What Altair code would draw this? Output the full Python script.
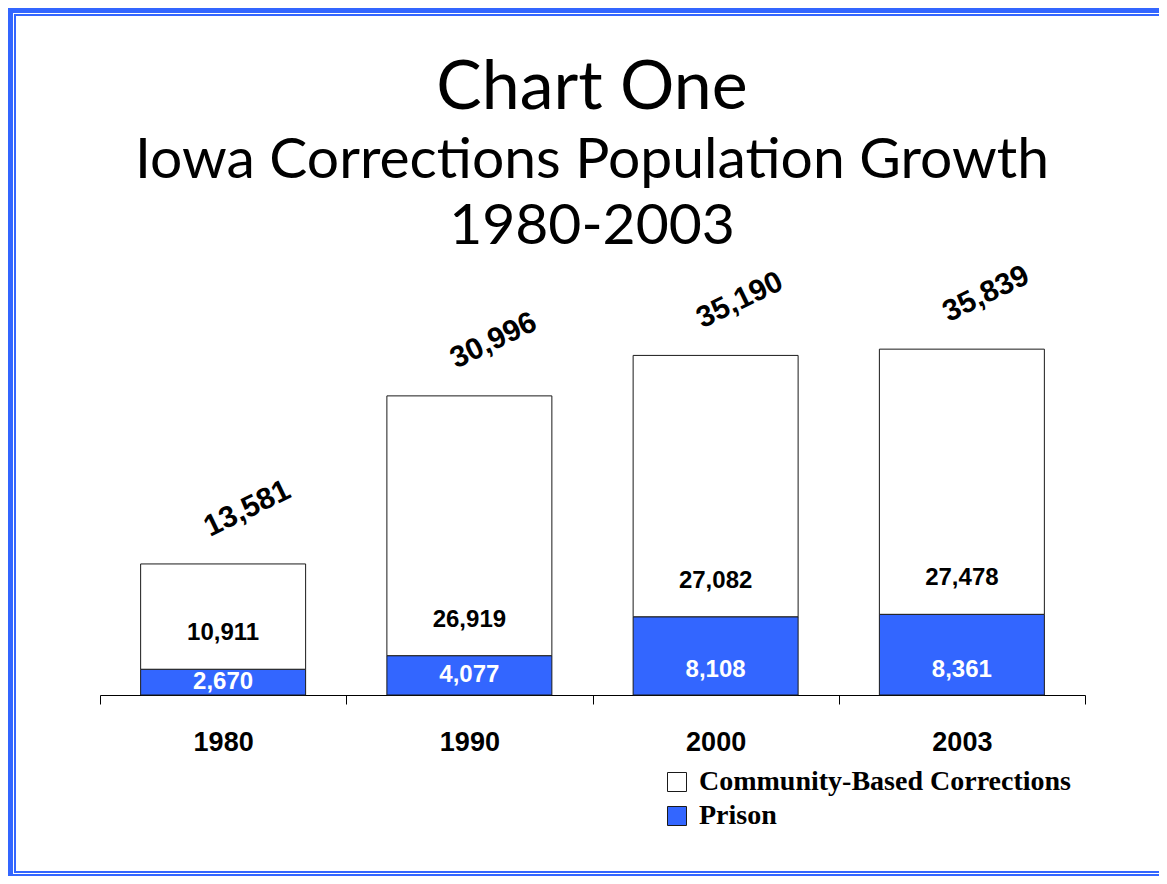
import altair as alt
import pandas as pd

years = ["1980", "1990", "2000", "2003"]
prison = [2670, 4077, 8108, 8361]
community = [10911, 26919, 27082, 27478]
totals = [13581, 30996, 35190, 35839]
series_names = ["Community-Based Corrections", "Prison"]
series_colors = ["#FFFFFF", "#3366FF"]
title_lines = ["Chart One", "Iowa Corrections Population Growth", "1980-2003"]

df = pd.DataFrame({
    "year": years,
    "Prison": prison,
    "Community-Based Corrections": community,
    "total": totals,
})

W, H = 985, 386
YDOM = [0, 40000]
yscale = alt.Scale(domain=YDOM, nice=False, zero=True)
xscale = alt.Scale(paddingInner=0, paddingOuter=0)

base = alt.Chart(df)

bars = base.transform_fold(
    ["Prison", "Community-Based Corrections"], as_=["series", "value"]
).transform_calculate(
    ord="datum.series == 'Prison' ? 0 : 1"
).mark_bar(stroke="#1a1a1a", strokeWidth=1, width=alt.RelativeBandSize(0.67)).encode(
    x=alt.X("year:N", scale=xscale, sort=years,
            axis=alt.Axis(title=None, labelAngle=0, domainColor="black", domainWidth=1,
                          tickColor="black", tickSize=9, tickWidth=1, tickBand="extent",
                          labelFont="Liberation Sans", labelFontWeight="bold",
                          labelFontSize=27, labelColor="black", labelPadding=25)),
    y=alt.Y("value:Q", stack="zero", scale=yscale, axis=None),
    color=alt.Color("series:N",
                    scale=alt.Scale(domain=series_names, range=series_colors),
                    legend=alt.Legend(orient="none", legendX=563, legendY=459, title=None,
                                      symbolType="square", symbolSize=361,
                                      symbolStrokeColor="#1a1a1a", symbolStrokeWidth=1,
                                      symbolOpacity=1, labelLimit=0,
                                      labelFont="Liberation Serif", labelFontWeight="bold",
                                      labelFontSize=28, labelColor="black", labelOffset=8,
                                      rowPadding=6, padding=0)),
    order=alt.Order("ord:Q"),
)

comm_labels = base.mark_text(
    font="Liberation Sans", fontWeight="bold", fontSize=24, color="black",
    baseline="middle", align="center", dy=-36
).encode(
    x=alt.X("year:N", scale=xscale, sort=years),
    y=alt.Y("Prison:Q", scale=yscale),
    text=alt.Text("Community-Based Corrections:Q", format=","),
)

prison_labels = base.transform_calculate(
    plab="min(datum.Prison / 2, 2600)"
).mark_text(
    font="Liberation Sans", fontWeight="bold", fontSize=24, color="white",
    baseline="middle", align="center"
).encode(
    x=alt.X("year:N", scale=xscale, sort=years),
    y=alt.Y("plab:Q", scale=yscale),
    text=alt.Text("Prison:Q", format=","),
)

total_labels = base.mark_text(
    font="Liberation Sans", fontWeight="bold", fontSize=30, color="black",
    baseline="middle", align="center", angle=334, dx=46, dy=-39
).encode(
    x=alt.X("year:N", scale=xscale, sort=years),
    y=alt.Y("total:Q", scale=yscale),
    text=alt.Text("total:Q", format=","),
)

one = pd.DataFrame({"a": [0]})

def title_text(txt, size, ypos):
    return alt.Chart(one).mark_text(
        text=txt, font="Lato", fontSize=size, color="black",
        align="center", baseline="alphabetic"
    ).encode(x=alt.value(492), y=alt.value(ypos))

titles = [
    title_text(title_lines[0], 68, -200),
    title_text(title_lines[1], 57, -131),
    title_text(title_lines[2], 57, -65),
]

def frame_rect(x1, x2, y1, y2, color):
    return alt.Chart(one).mark_rect(color=color).encode(
        x=alt.value(x1), x2=alt.value(x2), y=alt.value(y1), y2=alt.value(y2))

frames = [
    frame_rect(-92, -87, -301, 567, "#3366FF"),
    frame_rect(-92, 1059, -301, -296, "#3366FF"),
    frame_rect(-86, -84, -295, 564, "#3366FF"),
    frame_rect(-86, 1066, -295, -293, "#3366FF"),
    frame_rect(1064.5, 1066, -295, 564, "#6688FF"),
    frame_rect(-86, 1066, 562, 564, "#3366FF"),
    frame_rect(-87, 1059, 565, 567, "#3366FF"),
]

chart = alt.layer(
    *frames, bars, comm_labels, prison_labels, total_labels, *titles
).properties(
    width=W, height=H,
    autosize=alt.AutoSizeParams(type="none"),
    padding={"left": 92, "top": 301, "right": 74, "bottom": 181},
    background="white",
).configure_view(stroke=None)

chart.save("out.html", embed_options={"renderer": "svg", "actions": False})
